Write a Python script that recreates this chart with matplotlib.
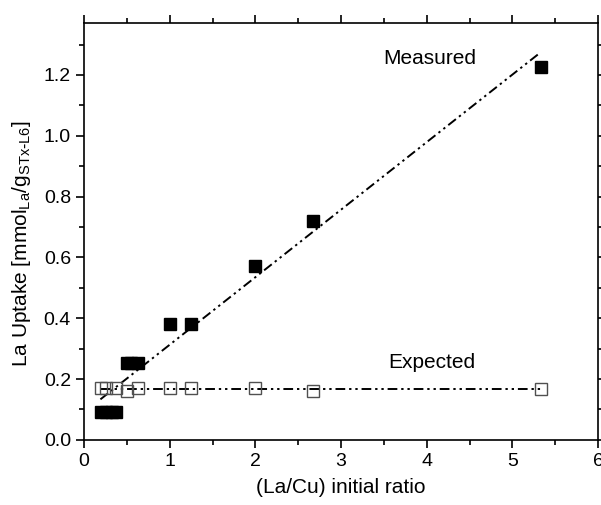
import numpy as np
import matplotlib
matplotlib.use('Agg')
import matplotlib.pyplot as plt
from matplotlib.ticker import MultipleLocator, FormatStrFormatter

plt.rcParams['font.family'] = ['Liberation Sans', 'DejaVu Sans']

# La/Cu initial ratio and uptake values
ratio_measured = [0.2, 0.25, 0.33, 0.375, 0.5, 0.55, 0.625, 1.0, 1.25, 2.0, 2.67, 5.33]
uptake_measured = [0.093, 0.093, 0.093, 0.093, 0.253, 0.253, 0.253, 0.38, 0.38, 0.572, 0.72, 1.225]

ratio_expected = [0.2, 0.25, 0.375, 0.5, 0.625, 1.0, 1.25, 2.0, 2.67, 5.33]
uptake_expected = [0.17, 0.17, 0.17, 0.16, 0.17, 0.17, 0.17, 0.17, 0.162, 0.168]

# linear trend lines (slope, intercept)
fit_measured = (0.222, 0.091)
fit_expected = (0.0, 0.168)

fig = plt.figure(figsize=(6.01, 5.05), dpi=100)
ax = fig.add_axes([0.14, 0.129, 0.855, 0.825])

dash = [5, 2, 1.2, 2, 1.2, 2]
xfit = np.array([min(ratio_measured) - 0.01, max(ratio_measured)])
ax.plot(xfit, fit_measured[0] * xfit + fit_measured[1], color='black', lw=1.4,
        dashes=dash, zorder=2)
xfit2 = np.array([min(ratio_expected), max(ratio_expected)])
ax.plot(xfit2, fit_expected[0] * xfit2 + fit_expected[1], color='black', lw=1.4,
        dashes=dash, zorder=2)

ax.plot(ratio_expected, uptake_expected, 's', markersize=8, markerfacecolor='none',
        markeredgecolor='#505050', markeredgewidth=1.0, zorder=3)
ax.plot(ratio_measured, uptake_measured, 's', markersize=8.8, color='black', zorder=4)

ax.text(4.04, 1.255, 'Measured', fontsize=15, ha='center', va='center')
ax.text(4.06, 0.253, 'Expected', fontsize=15, ha='center', va='center')

ax.set_xlim(0, 6)
ax.set_ylim(0, 1.37)
ax.xaxis.set_major_locator(MultipleLocator(1))
ax.xaxis.set_minor_locator(MultipleLocator(0.5))
ax.yaxis.set_major_locator(MultipleLocator(0.2))
ax.yaxis.set_minor_locator(MultipleLocator(0.1))
ax.yaxis.set_major_formatter(FormatStrFormatter('%.1f'))

ax.tick_params(which='both', direction='out', top=True, right=True, width=1.2,
               labelsize=14)
ax.tick_params(which='major', length=6)
ax.tick_params(which='minor', length=3.5)
for s in ax.spines.values():
    s.set_linewidth(1.2)

ax.set_xlabel('(La/Cu) initial ratio', fontsize=15, labelpad=6)
ax.set_ylabel(r'La Uptake [mmol$_\mathregular{La}$/g$_\mathregular{STx\text{-}L6}$]',
              fontsize=15)
ax.yaxis.set_label_coords(-0.1, 0.47)

fig.savefig('out.png', dpi=100)
